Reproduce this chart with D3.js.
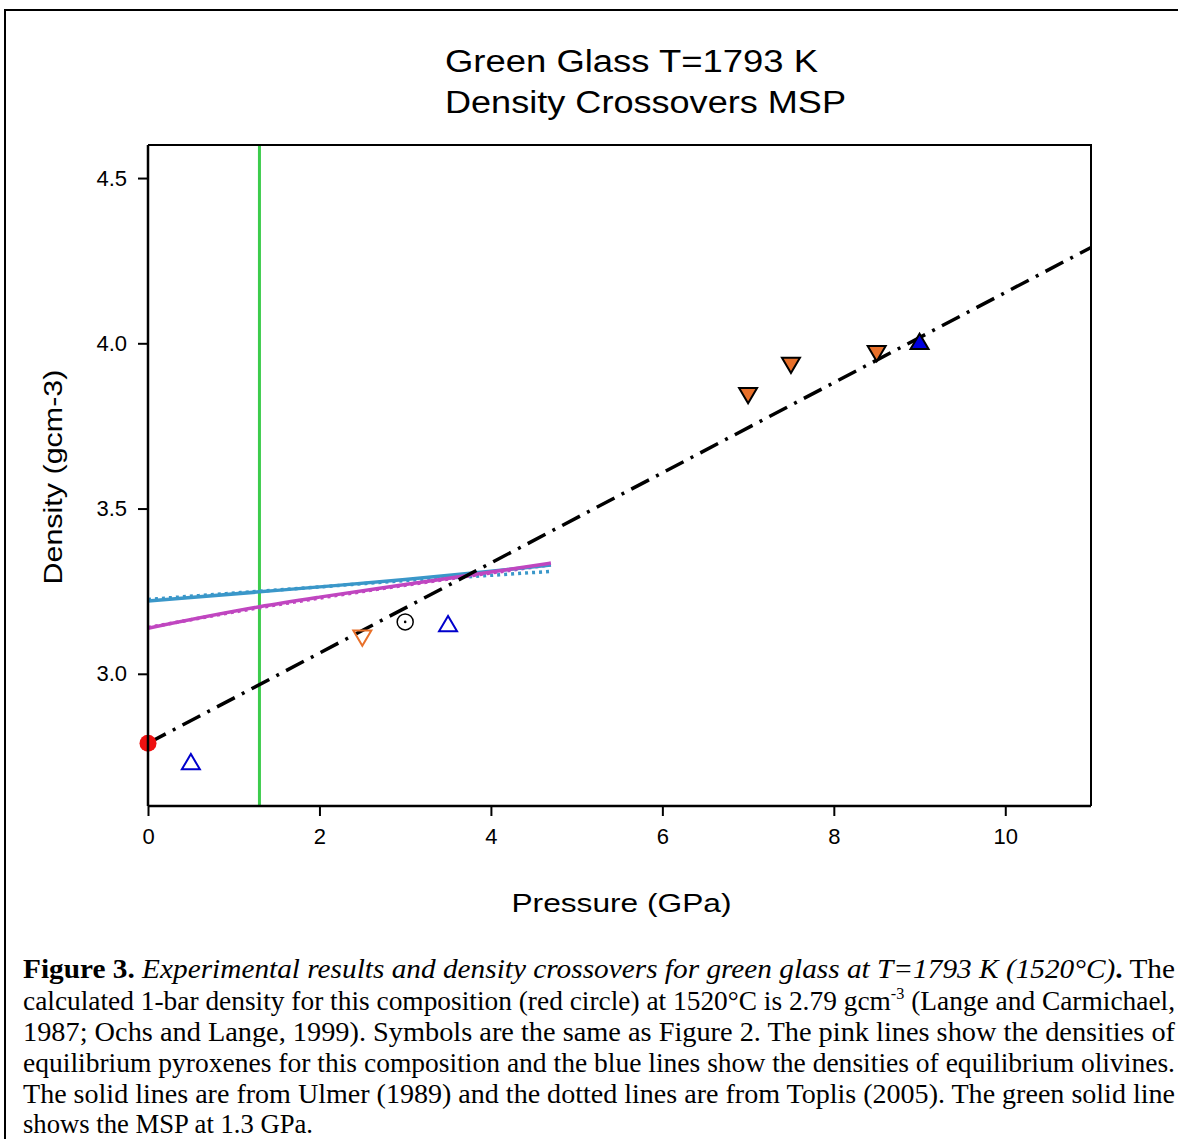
<!DOCTYPE html>
<html>
<head>
<meta charset="utf-8">
<script src="https://cdn.jsdelivr.net/npm/d3@7"></script>
<style>
  body { margin: 0; background: #fff; }
  svg { display: block; }
</style>
</head>
<body>
<div id="chart"></div>
<script>
// Data
var xTicks = [0, 2, 4, 6, 8, 10];
var yTicks = [3.0, 3.5, 4.0, 4.5];

// 1-bar density (red circle)
var oneBar = [{p: 0, d: 2.79}];
// dash-dot fit through the data
var fitLine = [{p: 0, d: 2.79}, {p: 11, d: 4.29}];
// MSP
var mspPressure = 1.3;

// pyroxene (pink) and olivine (blue) densities
var pyxUlmer = [{p: 0, d: 3.138}, {p: 1.3, d: 3.203}, {p: 2, d: 3.232}, {p: 3, d: 3.27}, {p: 4, d: 3.308}, {p: 4.7, d: 3.335}];
var pyxToplis = [{p: 0, d: 3.14}, {p: 1.3, d: 3.2}, {p: 2, d: 3.229}, {p: 3, d: 3.268}, {p: 4, d: 3.305}, {p: 4.7, d: 3.33}];
var olUlmer = [{p: 0, d: 3.22}, {p: 1.3, d: 3.248}, {p: 2, d: 3.263}, {p: 3, d: 3.285}, {p: 4, d: 3.31}, {p: 4.7, d: 3.329}];
var olToplis = [{p: 0, d: 3.225}, {p: 1.3, d: 3.25}, {p: 2, d: 3.263}, {p: 3, d: 3.282}, {p: 4, d: 3.298}, {p: 4.7, d: 3.31}];

// experimental points
var openDown = [{p: 2.5, d: 3.112}];          // open orange inverted triangle
var openCircle = [{p: 3.0, d: 3.157}];        // open black circle with dot
var openUp = [{p: 0.5, d: 2.73}, {p: 3.5, d: 3.148}];  // open blue triangles
var filledDown = [{p: 7.0, d: 3.846}, {p: 7.5, d: 3.937}, {p: 8.5, d: 3.973}];
var filledUp = [{p: 9.0, d: 4.002}];

// caption lines, as runs of [text, style]
var captionLines = [
  [["Figure 3. ", "b"], ["Experimental results and density crossovers for green glass at T=1793 K (1520°C)", "i"], [".", "b"], [" The", ""]],
  [["calculated 1-bar density for this composition (red circle) at 1520°C is 2.79 gcm", ""], ["-3", "sup"], [" (Lange and Carmichael,", ""]],
  [["1987; Ochs and Lange, 1999). Symbols are the same as Figure 2. The pink lines show the densities of", ""]],
  [["equilibrium pyroxenes for this composition and the blue lines show the densities of equilibrium olivines.", ""]],
  [["The solid lines are from Ulmer (1989) and the dotted lines are from Toplis (2005). The green solid line", ""]],
  [["shows the MSP at 1.3 GPa.", ""]]
];
var captionWidths = [1152, 1152, 1152, 1152, 1152, 290];

var svgWidth = 1178;
var svgHeight = 1139;
var margin = {top: 145, left: 148};
var width = 943;
var height = 661;
var sans = "Liberation Sans, Arial, sans-serif";

var svg = d3.select("#chart").append("svg")
  .attr("width", svgWidth)
  .attr("height", svgHeight);

// outer frame
svg.append("path")
  .attr("d", "M5,1139 L5,10 L1178,10")
  .attr("fill", "none")
  .attr("stroke", "#000")
  .attr("stroke-width", 2);

var g = svg.append("g")
  .attr("transform", `translate(${margin.left}, ${margin.top})`);

var x = d3.scaleLinear().domain([0, 11]).range([0, width]);
var y = d3.scaleLinear().domain([2.6, 4.6]).range([height, 0]);

// title
svg.append("text").attr("x", 445).attr("y", 72)
  .attr("font-family", sans).attr("font-size", 31)
  .attr("textLength", 373).attr("lengthAdjust", "spacingAndGlyphs")
  .text("Green Glass T=1793 K");
svg.append("text").attr("x", 445).attr("y", 113)
  .attr("font-family", sans).attr("font-size", 31)
  .attr("textLength", 401).attr("lengthAdjust", "spacingAndGlyphs")
  .text("Density Crossovers MSP");

// MSP line
g.append("line")
  .attr("x1", x(mspPressure)).attr("x2", x(mspPressure))
  .attr("y1", 0).attr("y2", height)
  .attr("stroke", "#3ccc4c").attr("stroke-width", 3);

var line = d3.line().x(d => x(d.p)).y(d => y(d.d)).curve(d3.curveMonotoneX);

function drawLine(data, color, dash) {
  g.append("path").datum(data)
    .attr("d", line)
    .attr("fill", "none")
    .attr("stroke", color)
    .attr("stroke-width", 3.5)
    .attr("stroke-dasharray", dash);
}
drawLine(olToplis, "#3a97c9", "3,4");
drawLine(pyxToplis, "#c046c0", "3,4");
drawLine(olUlmer, "#3a97c9", null);
drawLine(pyxUlmer, "#c046c0", null);

// dash-dot fit
g.append("path").datum(fitLine)
  .attr("d", d3.line().x(d => x(d.p)).y(d => y(d.d)))
  .attr("fill", "none")
  .attr("stroke", "#000")
  .attr("stroke-width", 3.5)
  .attr("stroke-dasharray", "20,8,3,8");

// markers
function tri(down) {
  var s = 9;
  if (down) return `M${-s},${-s * 0.7} L${s},${-s * 0.7} L0,${s} Z`;
  return `M${-s},${s * 0.7} L${s},${s * 0.7} L0,${-s} Z`;
}

g.selectAll(".od").data(openDown).enter().append("path")
  .attr("transform", d => `translate(${x(d.p)},${y(d.d)})`)
  .attr("d", tri(true))
  .attr("fill", "none").attr("stroke", "#e8702a").attr("stroke-width", 2);

g.selectAll(".ou").data(openUp).enter().append("path")
  .attr("transform", d => `translate(${x(d.p)},${y(d.d)})`)
  .attr("d", tri(false))
  .attr("fill", "none").attr("stroke", "#0000cc").attr("stroke-width", 2);

g.selectAll(".oc").data(openCircle).enter().append("circle")
  .attr("cx", d => x(d.p)).attr("cy", d => y(d.d)).attr("r", 8)
  .attr("fill", "#fff").attr("stroke", "#000").attr("stroke-width", 1.5);
g.selectAll(".ocd").data(openCircle).enter().append("circle")
  .attr("cx", d => x(d.p)).attr("cy", d => y(d.d)).attr("r", 1.3)
  .attr("fill", "#000");

g.selectAll(".fd").data(filledDown).enter().append("path")
  .attr("transform", d => `translate(${x(d.p)},${y(d.d)})`)
  .attr("d", tri(true))
  .attr("fill", "#e8702a").attr("stroke", "#000").attr("stroke-width", 2);

g.selectAll(".fu").data(filledUp).enter().append("path")
  .attr("transform", d => `translate(${x(d.p)},${y(d.d)})`)
  .attr("d", tri(false))
  .attr("fill", "#0000dd").attr("stroke", "#000").attr("stroke-width", 2);

g.selectAll(".rb").data(oneBar).enter().append("circle")
  .attr("cx", d => x(d.p)).attr("cy", d => y(d.d)).attr("r", 8.5)
  .attr("fill", "#ee1111");

// frame top & right
g.append("path")
  .attr("d", `M0,0 L${width},0 L${width},${height}`)
  .attr("fill", "none").attr("stroke", "#000").attr("stroke-width", 2);

// axes
var bottomAxis = d3.axisBottom(x).tickValues(xTicks).tickSize(10).tickPadding(12).tickFormat(d3.format("d"));
var leftAxis = d3.axisLeft(y).tickValues(yTicks).tickSize(10).tickPadding(11).tickFormat(d3.format(".1f"));

var xa = g.append("g").attr("transform", `translate(0, ${height})`).call(bottomAxis);
var ya = g.append("g").call(leftAxis);
xa.select(".domain").attr("stroke-width", 2.5).attr("d", `M0,0H${width}`);
ya.select(".domain").attr("stroke-width", 2.5).attr("d", `M0,${height}V0`);
[xa, ya].forEach(function(a) {
  a.selectAll(".tick line").attr("stroke-width", 2);
  a.selectAll("text").attr("font-family", sans).attr("font-size", 22).attr("fill", "#000");
});

// axis labels
g.append("text")
  .attr("x", x(4.24)).attr("y", height + 106)
  .attr("font-family", sans).attr("font-size", 26)
  .attr("textLength", 220).attr("lengthAdjust", "spacingAndGlyphs")
  .text("Pressure (GPa)");

g.append("text")
  .attr("transform", `translate(-86, ${y(3.5) + 76}) rotate(-90)`)
  .attr("font-family", sans).attr("font-size", 26)
  .attr("textLength", 215).attr("lengthAdjust", "spacingAndGlyphs")
  .text("Density (gcm-3)");

// caption
var capBase = [978, 1009.5, 1041, 1072, 1103, 1133];
var cap = svg.append("g")
  .attr("font-family", "Liberation Serif, Times New Roman, serif")
  .attr("font-size", 27).attr("fill", "#000");

cap.selectAll("text").data(captionLines).enter().append("text")
  .attr("x", 23)
  .attr("y", (d, i) => capBase[i])
  .attr("textLength", (d, i) => captionWidths[i])
  .attr("lengthAdjust", "spacingAndGlyphs")
  .each(function(runs) {
    var t = d3.select(this);
    runs.forEach(function(r) {
      var ts = t.append("tspan").text(r[0]);
      if (r[1] === "b") ts.attr("font-weight", "bold");
      if (r[1] === "i") ts.attr("font-style", "italic");
      if (r[1] === "sup") ts.attr("font-size", 16).attr("baseline-shift", "70%");
    });
  });
</script>
</body>
</html>
